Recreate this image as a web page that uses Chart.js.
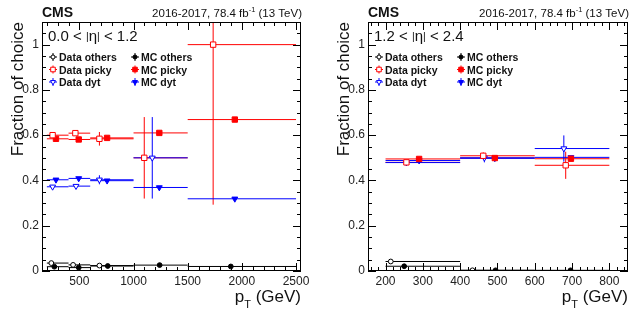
<!DOCTYPE html>
<html>
<head>
<meta charset="utf-8">
<script src="https://cdn.jsdelivr.net/npm/chart.js@4/dist/chart.umd.min.js"></script>
<style>
  body { margin: 0; background: #fff; }
  #wrap { position: relative; width: 633px; height: 314px; }
  #c1 { position: absolute; left: 0; top: 0; }
  #c2 { position: absolute; left: 325px; top: 0; }
</style>
</head>
<body>
<div id="wrap">
  <canvas id="c1" width="316" height="314"></canvas>
  <canvas id="c2" width="308" height="314"></canvas>
</div>
<script>
const FONT = '"Liberation Sans", Arial, Helvetica, sans-serif';

// ---- 0.0 < |eta| < 1.2 ----
const ptLoA = [200, 400, 600, 1000, 1500];
const ptHiA = [400, 600, 1000, 1500, 2500];
const dataOthersXA = [241, 442, 685];
const dataOthersYA = [0.035, 0.027, 0.024];
const dataOthersEA = [0.003, 0.003, 0.003];
const mcOthersXA = [269, 494, 762, 1241, 1898];
const mcOthersYA = [0.019, 0.015, 0.022, 0.026, 0.020];
const dataPickyXA = [253, 463, 685, 1099, 1735];
const dataPickyYA = [0.600, 0.609, 0.584, 0.500, 1.000];
const dataPickyDnA = [0.008, 0.008, 0.030, 0.180, 0.707];
const dataPickyUpA = [0.008, 0.008, 0.030, 0.180, 0.300];
const mcPickyXA = [284, 494, 756, 1238, 1935];
const mcPickyYA = [0.584, 0.581, 0.588, 0.610, 0.669];
const dataDytXA = [253, 469, 685, 1173];
const dataDytYA = [0.372, 0.375, 0.403, 0.500];
const dataDytDnA = [0.008, 0.008, 0.020, 0.180];
const dataDytUpA = [0.008, 0.008, 0.020, 0.180];
const mcDytXA = [284, 494, 756, 1238, 1935];
const mcDytYA = [0.403, 0.409, 0.399, 0.369, 0.319];

// ---- 1.2 < |eta| < 2.4 ----
const ptLoB = [200, 400, 600];
const ptHiB = [400, 600, 800];
const dataOthersXB = [214, 433];
const dataOthersYB = [0.042, 0.003];
const dataOthersEB = [0.003, 0.002];
const mcOthersXB = [250, 495, 696];
const mcOthersYB = [0.021, 0.003, 0.003];
const dataPickyXB = [256, 462, 683];
const dataPickyYB = [0.480, 0.509, 0.467];
const dataPickyDnB = [0.008, 0.015, 0.060];
const dataPickyUpB = [0.008, 0.015, 0.060];
const mcPickyXB = [290, 493, 697];
const mcPickyYB = [0.495, 0.499, 0.496];
const dataDytXB = [256, 465, 678];
const dataDytYB = [0.479, 0.500, 0.541];
const dataDytDnB = [0.008, 0.020, 0.058];
const dataDytUpB = [0.008, 0.020, 0.058];
const mcDytXB = [290, 493, 697];
const mcDytYB = [0.488, 0.498, 0.502];

const xTicksA = [500, 1000, 1500, 2000, 2500];
const xTicksB = [200, 300, 400, 500, 600, 700, 800];
const yTicks = [0, 0.2, 0.4, 0.6, 0.8, 1];

const RED = '#ff0000', BLUE = '#0000ff', BLACK = '#000000';

function series(label, xs, ys, lo, hi, dn, up, color, style, open) {
  return {
    label: label,
    data: xs.map((x, i) => ({ x: x, y: ys[i] })),
    binLo: lo, binHi: hi, errDn: dn || [], errUp: up || dn || [],
    borderColor: color,
    pointBorderColor: color,
    pointBackgroundColor: open ? '#ffffff' : color,
    pointBorderWidth: 1,
    pointStyle: style,
    pointRotation: style === 'triangle' ? 180 : 0,
    pointRadius: style === 'rect' ? 3.8 : (style === 'triangle' ? 3.4 : 2.4),
    open: open
  };
}

function drawMarker(ctx, ds, x, y) {
  const r = ds.pointRadius;
  ctx.beginPath();
  if (ds.pointStyle === 'circle') {
    ctx.arc(x, y, r, 0, Math.PI * 2);
  } else if (ds.pointStyle === 'rect') {
    const s = r * Math.SQRT1_2;
    ctx.rect(x - s, y - s, 2 * s, 2 * s);
  } else {
    const w = r * Math.sqrt(3) / 2;
    ctx.moveTo(x - w, y - r / 2);
    ctx.lineTo(x + w, y - r / 2);
    ctx.lineTo(x, y + r);
    ctx.closePath();
  }
  ctx.fillStyle = ds.pointBackgroundColor;
  ctx.strokeStyle = ds.pointBorderColor;
  ctx.lineWidth = 1;
  ctx.fill();
  ctx.stroke();
}

const errorBars = {
  id: 'errorBars',
  beforeDatasetsDraw(chart) {
    const { ctx, chartArea: a, scales: { x, y } } = chart;
    ctx.save();
    ctx.beginPath();
    ctx.rect(a.left, a.top, a.right - a.left, a.bottom - a.top);
    ctx.clip();
    ctx.lineWidth = 1;
    chart.data.datasets.forEach(ds => {
      ctx.strokeStyle = ds.borderColor;
      ds.data.forEach((p, i) => {
        const px = x.getPixelForValue(p.x), py = y.getPixelForValue(p.y);
        ctx.beginPath();
        ctx.moveTo(x.getPixelForValue(ds.binLo[i]), py);
        ctx.lineTo(x.getPixelForValue(ds.binHi[i]), py);
        if (ds.errDn[i] || ds.errUp[i]) {
          ctx.moveTo(px, y.getPixelForValue(p.y - (ds.errDn[i] || 0)));
          ctx.lineTo(px, y.getPixelForValue(p.y + (ds.errUp[i] || 0)));
        }
        ctx.stroke();
      });
    });
    ctx.restore();
  }
};

const frame = {
  id: 'frame',
  afterDraw(chart, args, o) {
    const { ctx, chartArea: a, scales: { x, y } } = chart;
    ctx.save();
    ctx.strokeStyle = '#000';
    ctx.lineWidth = 1;
    ctx.strokeRect(a.left + 0.5, a.top + 0.5, a.right - a.left - 1, a.bottom - a.top - 1);

    // inward ticks on all four sides
    ctx.beginPath();
    for (let v = Math.ceil(x.min / o.xMinor) * o.xMinor; v <= x.max; v += o.xMinor) {
      const major = Math.abs(v / o.xMajor - Math.round(v / o.xMajor)) < 1e-6;
      const len = major ? 8 : 4;
      const px = Math.round(x.getPixelForValue(v)) + 0.5;
      ctx.moveTo(px, a.bottom); ctx.lineTo(px, a.bottom - len);
      ctx.moveTo(px, a.top); ctx.lineTo(px, a.top + len);
    }
    for (let k = 0; k * 0.05 <= y.max + 1e-9; k++) {
      const v = k * 0.05;
      const len = k % 4 === 0 ? 8 : 4;
      const py = Math.round(y.getPixelForValue(v)) + 0.5;
      ctx.moveTo(a.left, py); ctx.lineTo(a.left + len, py);
      ctx.moveTo(a.right, py); ctx.lineTo(a.right - len, py);
    }
    ctx.stroke();

    // header
    ctx.fillStyle = '#111';
    ctx.textBaseline = 'alphabetic';
    ctx.textAlign = 'left';
    ctx.font = 'bold 14px ' + FONT;
    ctx.fillText('CMS', a.left, 17);
    const f1 = '11.5px ' + FONT, f2 = '7.5px ' + FONT;
    const t1 = '2016-2017, 78.4 fb', t2 = '-1', t3 = ' (13 TeV)';
    ctx.font = f1; const w1 = ctx.measureText(t1).width, w3 = ctx.measureText(t3).width;
    ctx.font = f2; const w2 = ctx.measureText(t2).width;
    let tx = a.right + 1 - w1 - w2 - w3;
    ctx.font = f1; ctx.fillText(t1, tx, 17); tx += w1;
    ctx.font = f2; ctx.fillText(t2, tx, 12); tx += w2;
    ctx.font = f1; ctx.fillText(t3, tx, 17);

    // eta range
    const parts = [[o.etaLo + ' < ', 15, 0], ['|', 10.5, -1], ['\u03b7', 15, 0], ['|', 10.5, -1], [' < ' + o.etaHi, 15, 0]];
    tx = a.left + 6;
    parts.forEach(p => {
      ctx.font = p[1] + 'px ' + FONT;
      ctx.fillText(p[0], tx, 41 + p[2]);
      tx += ctx.measureText(p[0]).width;
    });

    // legend: data column, MC column
    const ds = chart.data.datasets;
    const order = [[0, 1], [2, 3], [4, 5]];
    const rowY = [57, 69.5, 82];
    ctx.font = 'bold 10.5px ' + FONT;
    order.forEach((pair, r) => {
      pair.forEach((di, c) => {
        const d = ds[di];
        const mx = a.left + (c === 0 ? 11 : 93), my = rowY[r];
        ctx.strokeStyle = d.borderColor;
        ctx.beginPath();
        ctx.moveTo(mx - 4, my); ctx.lineTo(mx + 4, my);
        ctx.moveTo(mx, my - 4); ctx.lineTo(mx, my + 4);
        ctx.stroke();
        drawMarker(ctx, Object.assign({}, d, { pointRadius: d.pointRadius * 0.85 }), mx, my);
        ctx.fillStyle = '#111';
        ctx.fillText(d.label, mx + 6, my + 4);
      });
    });

    // axis titles
    ctx.font = '17px ' + FONT;
    ctx.save();
    ctx.translate(a.left - 19, a.top);
    ctx.rotate(-Math.PI / 2);
    ctx.textAlign = 'right';
    ctx.fillText('Fraction of choice', 0, 0);
    ctx.restore();

    const g = ' (GeV)';
    ctx.font = '17px ' + FONT; const wg = ctx.measureText(g).width, wp = ctx.measureText('p').width;
    ctx.font = '11px ' + FONT; const wt = ctx.measureText('T').width;
    tx = a.right - wg - wt - wp;
    ctx.font = '17px ' + FONT; ctx.fillText('p', tx, 302); tx += wp;
    ctx.font = '11px ' + FONT; ctx.fillText('T', tx, 308); tx += wt;
    ctx.font = '17px ' + FONT; ctx.fillText(g, tx, 302);
    ctx.restore();
  }
};

function makePanel(id, p) {
  const datasets = [
    series('Data others', p.doX, p.doY, p.lo, p.hi, p.doE, null, BLACK, 'circle', true),
    series('MC others', p.moX, p.moY, p.lo, p.hi, null, null, BLACK, 'circle', false),
    series('Data picky', p.dpX, p.dpY, p.lo, p.hi, p.dpDn, p.dpUp, RED, 'rect', true),
    series('MC picky', p.mpX, p.mpY, p.lo, p.hi, null, null, RED, 'rect', false),
    series('Data dyt', p.ddX, p.ddY, p.lo, p.hi, p.ddDn, p.ddUp, BLUE, 'triangle', true),
    series('MC dyt', p.mdX, p.mdY, p.lo, p.hi, null, null, BLUE, 'triangle', false)
  ];
  return new Chart(document.getElementById(id), {
    type: 'scatter',
    data: { datasets: datasets },
    plugins: [errorBars, frame],
    options: {
      responsive: false,
      animation: false,
      layout: { padding: { left: 0, top: 22, right: p.padRight, bottom: 0 } },
      plugins: {
        legend: { display: false },
        tooltip: { enabled: false },
        frame: { xMajor: p.xMajor, xMinor: p.xMinor, etaLo: p.etaLo, etaHi: p.etaHi }
      },
      scales: {
        x: {
          type: 'linear', min: p.xMin, max: p.xMax,
          grid: { display: false, drawTicks: false }, border: { display: false },
          afterBuildTicks: s => { s.ticks = p.xTicks.map(v => ({ value: v })); },
          afterFit: s => { s.height = 43; },
          ticks: { font: { family: FONT, size: 12 }, color: '#222', padding: 3, maxRotation: 0, autoSkip: false,
                   callback: v => String(v) }
        },
        y: {
          type: 'linear', min: 0, max: 1.1,
          grid: { display: false, drawTicks: false }, border: { display: false },
          afterBuildTicks: s => { s.ticks = yTicks.map(v => ({ value: v })); },
          afterFit: s => { s.width = p.yAxisW; },
          ticks: { font: { family: FONT, size: 12 }, color: '#222', padding: 3,
                   callback: v => String(Math.round(v * 10) / 10) }
        }
      }
    }
  });
}

makePanel('c1', {
  lo: ptLoA, hi: ptHiA,
  doX: dataOthersXA, doY: dataOthersYA, doE: dataOthersEA,
  moX: mcOthersXA, moY: mcOthersYA,
  dpX: dataPickyXA, dpY: dataPickyYA, dpDn: dataPickyDnA, dpUp: dataPickyUpA,
  mpX: mcPickyXA, mpY: mcPickyYA,
  ddX: dataDytXA, ddY: dataDytYA, ddDn: dataDytDnA, ddUp: dataDytUpA,
  mdX: mcDytXA, mdY: mcDytYA,
  xMin: 155, xMax: 2546, xTicks: xTicksA, xMajor: 500, xMinor: 100,
  yAxisW: 42, padRight: 15, etaLo: '0.0', etaHi: '1.2'
});

makePanel('c2', {
  lo: ptLoB, hi: ptHiB,
  doX: dataOthersXB, doY: dataOthersYB, doE: dataOthersEB,
  moX: mcOthersXB, moY: mcOthersYB,
  dpX: dataPickyXB, dpY: dataPickyYB, dpDn: dataPickyDnB, dpUp: dataPickyUpB,
  mpX: mcPickyXB, mpY: mcPickyYB,
  ddX: dataDytXB, ddY: dataDytYB, ddDn: dataDytDnB, ddUp: dataDytUpB,
  mdX: mcDytXB, mdY: mcDytYB,
  xMin: 153, xMax: 850, xTicks: xTicksB, xMajor: 100, xMinor: 20,
  yAxisW: 43, padRight: 5, etaLo: '1.2', etaHi: '2.4'
});
</script>
</body>
</html>
